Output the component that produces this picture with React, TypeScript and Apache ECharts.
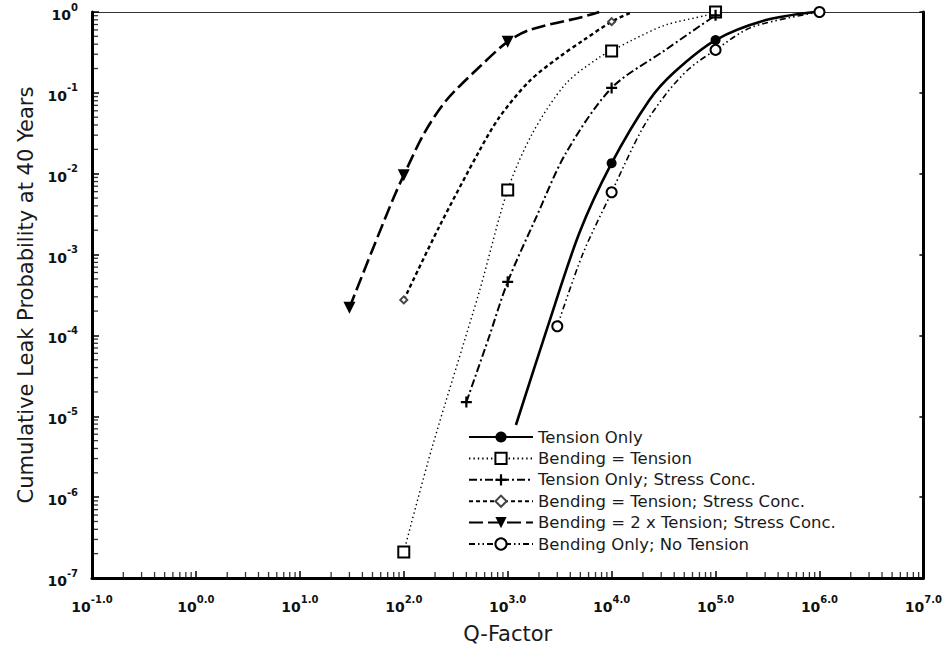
import React, { useEffect, useRef } from "react";
import * as echarts from "echarts";

// ---- Data (Q-factor, cumulative leak probability); marker flags show plotted symbols ----
const TENSION_Q = [1200, 2400, 4900, 10000, 23000, 40000, 100000, 300000, 900000];
const TENSION_P = [7.8e-6, 1.23e-4, 1.86e-3, 0.0135, 0.081, 0.18, 0.45, 0.79, 1.0];
const TENSION_M = [0, 0, 0, 1, 0, 0, 1, 0, 0];

const BEND_EQ_Q = [100, 186, 537, 1000, 1740, 3630, 7600, 10000, 15800, 33000, 81000, 100000];
const BEND_EQ_P = [2.1e-7, 4e-6, 3.6e-4, 6.3e-3, 0.032, 0.13, 0.275, 0.33, 0.45, 0.69, 0.91, 1.0];
const BEND_EQ_M = [1, 0, 0, 1, 0, 0, 0, 1, 0, 0, 0, 1];

const TENSION_SC_Q = [400, 660, 1000, 1860, 3630, 10000, 33000, 100000, 115000];
const TENSION_SC_P = [1.5e-5, 9.5e-5, 4.6e-4, 2.8e-3, 0.018, 0.115, 0.34, 0.91, 1.0];
const TENSION_SC_M = [1, 0, 1, 0, 0, 1, 0, 1, 0];

const BEND_EQ_SC_Q = [100, 219, 537, 832, 1620, 3160, 5250, 10000, 15800];
const BEND_EQ_SC_P = [2.75e-4, 2.2e-3, 0.0195, 0.05, 0.14, 0.28, 0.44, 0.76, 1.0];
const BEND_EQ_SC_M = [1, 0, 0, 0, 0, 0, 0, 1, 0];

const BEND_2X_Q = [30, 50, 78, 100, 158, 257, 537, 1000, 1620, 5250, 7600];
const BEND_2X_P = [2.2e-4, 1.15e-3, 4.7e-3, 0.0096, 0.032, 0.081, 0.21, 0.43, 0.6, 0.87, 1.0];
const BEND_2X_M = [1, 0, 0, 1, 0, 0, 0, 1, 0, 0, 0];

const BEND_ONLY_Q = [3000, 5250, 10000, 19500, 33000, 56000, 100000, 224000, 1000000];
const BEND_ONLY_P = [1.3e-4, 1.0e-3, 5.9e-3, 0.035, 0.095, 0.2, 0.34, 0.65, 1.0];
const BEND_ONLY_M = [1, 0, 1, 0, 0, 0, 1, 0, 1];

const SERIES_NAMES = [
  "Tension Only",
  "Bending = Tension",
  "Tension Only; Stress Conc.",
  "Bending = Tension; Stress Conc.",
  "Bending = 2 x Tension; Stress Conc.",
  "Bending Only; No Tension",
];

// axis extents and minor-tick layout
const X_MIN = 0.1;
const X_MAX = 1e7;
const Y_MIN = 1e-7;
const Y_MAX = 1;
const MINOR_MULT = [2, 3, 4, 5, 6, 7, 8, 9];
const X_DECADES = [-1, 0, 1, 2, 3, 4, 5, 6];
const Y_DECADES = [-7, -6, -5, -4, -3, -2, -1];

const PLUS = "path://M4,0H6V4H10V6H6V10H4V6H0V4H4Z";
const FONT = "DejaVu Sans";

function makeLine(
  name: string,
  qs: number[],
  ps: number[],
  marks: number[],
  extra: any
) {
  return {
    type: "line",
    name,
    data: qs.map((q, i) =>
      marks[i] ? { value: [q, ps[i]] } : { value: [q, ps[i]], symbol: "none" }
    ),
    smooth: 0.3,
    showAllSymbol: true,
    ...extra,
  };
}

export default function App() {
  const ref = useRef<HTMLDivElement>(null);

  useEffect(() => {
    if (!ref.current) return;
    const chart = echarts.init(ref.current, undefined, { renderer: "svg" });

    const bottomTicks = X_DECADES.flatMap((d) =>
      MINOR_MULT.map((m) => [m * Math.pow(10, d), Y_MIN])
    );
    const leftTicks = Y_DECADES.flatMap((d) =>
      MINOR_MULT.map((m) => [X_MIN, m * Math.pow(10, d)])
    );

    const richLabel = {
      b: { fontSize: 14, fontWeight: "bold", fontFamily: FONT, color: "#111", lineHeight: 20, verticalAlign: "bottom" },
      s: { fontSize: 10, fontWeight: "bold", fontFamily: FONT, color: "#111", lineHeight: 20, verticalAlign: "top" },
    };

    const option: any = {
      animation: false,
      backgroundColor: "#fff",
      grid: { left: 92, right: 20, top: 12, bottom: 79, containLabel: false },
      legend: {
        data: SERIES_NAMES,
        orient: "vertical",
        left: 463,
        top: 423,
        itemWidth: 64,
        itemHeight: 14,
        itemGap: 3.4,
        textStyle: { fontSize: 16.5, fontFamily: FONT, color: "#1a1a1a", lineHeight: 18 },
        selectedMode: false,
      },
      xAxis: [
        {
          type: "log",
          logBase: 10,
          min: X_MIN,
          max: X_MAX,
          splitNumber: 8,
          name: "Q-Factor",
          nameLocation: "middle",
          nameGap: 45,
          nameTextStyle: { fontSize: 21, fontFamily: FONT, color: "#1a1a1a" },
          axisLine: { show: true, onZero: false, lineStyle: { color: "#000", width: 3 } },
          axisTick: { show: true, inside: true, length: 7, lineStyle: { color: "#000", width: 1.5 } },
          splitLine: { show: false },
          axisLabel: {
            margin: 16,
            formatter: (v: number) => {
              const e = Math.round(Math.log10(v));
              return "{b|10}{s|" + e.toFixed(1) + "}";
            },
            rich: richLabel,
          },
        },
        {
          type: "log",
          logBase: 10,
          min: X_MIN,
          max: X_MAX,
          position: "top",
          axisLine: { show: true, onZero: false, lineStyle: { color: "#333", width: 1 } },
          axisTick: { show: false },
          axisLabel: { show: false },
          splitLine: { show: false },
        },
      ],
      yAxis: [
        {
          type: "log",
          logBase: 10,
          min: Y_MIN,
          max: Y_MAX,
          splitNumber: 7,
          name: "Cumulative Leak Probability at 40 Years",
          nameLocation: "middle",
          nameGap: 52,
          nameTextStyle: { fontSize: 21, fontFamily: FONT, color: "#1a1a1a" },
          axisLine: { show: true, onZero: false, lineStyle: { color: "#000", width: 3 } },
          axisTick: { show: true, inside: true, length: 7, lineStyle: { color: "#000", width: 1.5 } },
          splitLine: { show: false },
          axisLabel: {
            margin: 14,
            formatter: (v: number) => {
              const e = Math.round(Math.log10(v));
              return "{b|10}{s|" + e + "}";
            },
            rich: richLabel,
          },
        },
        {
          type: "log",
          logBase: 10,
          min: Y_MIN,
          max: Y_MAX,
          splitNumber: 7,
          position: "right",
          axisLine: { show: true, onZero: false, lineStyle: { color: "#000", width: 3 } },
          axisTick: { show: true, inside: true, length: 4, lineStyle: { color: "#000", width: 1.5 } },
          axisLabel: { show: false },
          splitLine: { show: false },
        },
      ],
      series: [
        makeLine("Tension Only", TENSION_Q, TENSION_P, TENSION_M, {
          symbol: "circle",
          symbolSize: 10,
          lineStyle: { color: "#000", width: 2.6, type: "solid" },
          itemStyle: { color: "#000" },
          z: 6,
        }),
        makeLine("Bending = Tension", BEND_EQ_Q, BEND_EQ_P, BEND_EQ_M, {
          symbol: "emptyRect",
          symbolSize: 11,
          lineStyle: { color: "#000", width: 1.4, type: [1.4, 3] },
          itemStyle: { color: "#000", borderWidth: 1.3 },
          z: 3,
        }),
        makeLine("Tension Only; Stress Conc.", TENSION_SC_Q, TENSION_SC_P, TENSION_SC_M, {
          symbol: PLUS,
          symbolSize: 11,
          lineStyle: { color: "#000", width: 2, type: [8, 3, 2, 3] },
          itemStyle: { color: "#000" },
          z: 4,
        }),
        makeLine("Bending = Tension; Stress Conc.", BEND_EQ_SC_Q, BEND_EQ_SC_P, BEND_EQ_SC_M, {
          symbol: "emptyDiamond",
          symbolSize: 7,
          lineStyle: { color: "#000", width: 2.4, type: [4, 3] },
          itemStyle: { color: "#444", borderWidth: 1 },
          z: 3,
        }),
        makeLine("Bending = 2 x Tension; Stress Conc.", BEND_2X_Q, BEND_2X_P, BEND_2X_M, {
          symbol: "triangle",
          symbolRotate: 180,
          symbolSize: 12,
          lineStyle: { color: "#000", width: 2.6, type: [14, 5] },
          itemStyle: { color: "#000" },
          z: 3,
        }),
        makeLine("Bending Only; No Tension", BEND_ONLY_Q, BEND_ONLY_P, BEND_ONLY_M, {
          symbol: "emptyCircle",
          symbolSize: 10,
          lineStyle: { color: "#000", width: 1.6, type: [6, 3, 1.5, 3, 1.5, 3] },
          itemStyle: { color: "#000", borderWidth: 1.4 },
          z: 5,
        }),
        {
          type: "scatter",
          name: "minorX",
          silent: true,
          clip: false,
          z: 10,
          symbol: "rect",
          symbolSize: [1.3, 5],
          symbolOffset: [0, -3.5],
          itemStyle: { color: "#000" },
          data: bottomTicks,
        },
        {
          type: "scatter",
          name: "minorY",
          silent: true,
          clip: false,
          z: 10,
          symbol: "rect",
          symbolSize: [5, 1.3],
          symbolOffset: [3.5, 0],
          itemStyle: { color: "#000" },
          data: leftTicks,
        },
      ],
    };

    chart.setOption(option);
    return () => chart.dispose();
  }, []);

  return (
    <div
      ref={ref}
      style={{ position: "fixed", left: 0, top: 0, width: 945, height: 657, background: "#fff" }}
    />
  );
}
